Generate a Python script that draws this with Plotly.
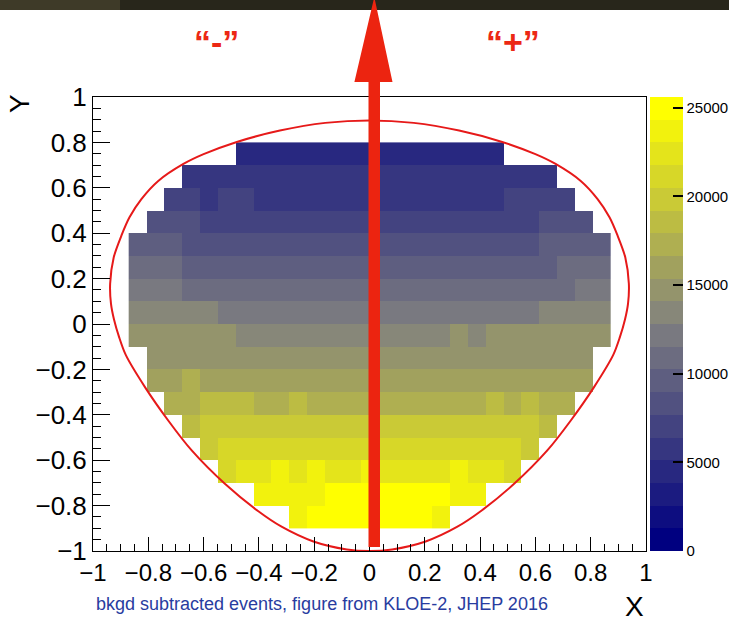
import numpy as np
import plotly.graph_objects as go

# ---------------- binning (31 X bins, 20 Y bins over [-1, 1]) ----------------
N_XBINS = 31
x_edges = np.linspace(-1.0, 1.0, N_XBINS + 1)
x_centers_all = (x_edges[:-1] + x_edges[1:]) / 2.0     # index 15 -> X = 0
x_centers = x_centers_all[2:29]                          # 27 populated columns

# Y bin centres, top row first
y_centers = [0.75, 0.65, 0.55, 0.45, 0.35, 0.25, 0.15, 0.05, -0.05,
             -0.15, -0.25, -0.35, -0.45, -0.55, -0.65, -0.75, -0.85]

# ---------------- counts per row (centred on X = 0, symmetric extent) --------
row_p075 = [4450, 4500, 4520, 4480, 4550, 4600, 4500, 4470, 4530, 4490, 4560, 4510, 4480, 4440, 4400]
row_p065 = [5850, 5800, 5780, 5820, 5760, 5800, 5790, 5830, 5810, 5770, 5800,
            5820, 5790, 5760, 5800, 5830, 5780, 5800, 5810, 5790, 5840]
row_p055 = [6900, 6950, 6100, 6800, 6850, 6000, 6050, 5950, 6000, 6080, 6020, 5980,
            6040, 6010, 5990, 6060, 6030, 6000, 6050, 6900, 6950, 6880, 6920]
row_p045 = [8200, 8250, 8150, 7100, 7150, 7050, 7120, 7080, 7100, 7130, 7070, 7110,
            7090, 7140, 7060, 7100, 7120, 7080, 7150, 7100, 7050, 7130, 8180, 8220, 8200]
row_p035 = [9500, 9550, 9450, 8400, 8350, 8420, 8380, 8450, 8400, 8360, 8410, 8390, 8430,
            8370, 8400, 8420, 8380, 8440, 8360, 8410, 8390, 8430, 8400, 9480, 9520, 9500, 9460]
row_p025 = [10800, 10850, 10750, 9700, 9650, 9720, 9680, 9750, 9700, 9660, 9710, 9690, 9730,
            9670, 9700, 9720, 9680, 9740, 9660, 9710, 9690, 9730, 9700, 9680, 10780, 10820, 10800]
row_p015 = [12100, 12150, 12050, 11000, 10950, 11020, 10980, 11050, 11000, 10960, 11010, 10990,
            11030, 10970, 11000, 11020, 10980, 11040, 10960, 11010, 10990, 11030, 11000, 10980,
            11020, 12120, 12080]
row_p005 = [13400, 13450, 13350, 13420, 13380, 12200, 12150, 12220, 12180, 12250, 12200, 12160,
            12210, 12190, 12230, 12170, 12200, 12220, 12180, 12240, 12160, 12210, 12190,
            13380, 13420, 13400, 13450]
row_m005 = [14600, 14650, 14550, 14620, 14580, 14640, 13500, 13450, 13520, 13480, 13550, 13500,
            13460, 13510, 13490, 13530, 13470, 13500, 14620, 13480, 14600, 14650, 14580, 14620,
            14560, 14640, 14600]
row_m015 = [15000, 15050, 14950, 15020, 14980, 15050, 15000, 14960, 15010, 14990, 15030, 14970,
            15000, 15020, 14980, 15040, 14960, 15010, 14990, 15030, 15000, 14980, 15020, 15050, 14990]
row_m025 = [16000, 16050, 17200, 15950, 16020, 15980, 16050, 16000, 15960, 16010, 15990, 16030,
            15970, 16000, 16020, 15980, 16040, 15960, 16010, 15990, 16030, 16000, 15980, 16020, 16050]
row_m035 = [17300, 17350, 18700, 18650, 18750, 17250, 17300, 18700, 17350, 17280, 17320,
            17300, 17340, 17260, 17310, 17290, 17330, 17300, 18720, 17280, 18680, 17320, 17300]
row_m045 = [18900, 20000, 20050, 19950, 20020, 19980, 20050, 20000, 19960, 20010, 19990,
            20030, 19970, 20000, 20020, 19980, 20040, 19960, 20010, 19990, 18950]
row_m055 = [19900, 21100, 21150, 21050, 21120, 21080, 21150, 21100, 21060, 21110,
            21090, 21130, 21070, 21100, 21120, 21080, 21140, 21060, 19950]
row_m065 = [21100, 22400, 22450, 23700, 22350, 23750, 22400, 22420, 23700,
            22380, 22450, 22400, 22350, 23720, 22420, 22380, 21150]
row_m075 = [23700, 23750, 23650, 23720, 25000, 25100, 25050, 25150, 25000, 25080, 25020, 23680, 23740]
row_m085 = [23700, 25000, 25100, 25200, 25150, 25250, 25100, 25050, 23750]

rows = [row_p075, row_p065, row_p055, row_p045, row_p035, row_p025, row_p015, row_p005,
        row_m005, row_m015, row_m025, row_m035, row_m045, row_m055, row_m065, row_m075, row_m085]

# ---------------- Dalitz-plot kinematic boundary ------
boundary_x = [0.00, -0.16, -0.324, -0.48, -0.60, -0.673, -0.764, -0.825, -0.868, -0.897, -0.925,
              -0.938, -0.935, -0.924, -0.905, -0.882, -0.812, -0.728, -0.643, -0.523, -0.402,
              -0.318, -0.203, -0.082, 0.00,
              0.082, 0.203, 0.318, 0.402, 0.523, 0.643, 0.728, 0.812, 0.882, 0.905, 0.924,
              0.935, 0.938, 0.925, 0.897, 0.868, 0.825, 0.764, 0.673, 0.60, 0.48, 0.324, 0.16, 0.00]
boundary_y = [0.897, 0.886, 0.852, 0.802, 0.748, 0.705, 0.630, 0.55, 0.47, 0.39, 0.294,
              0.177, 0.09, 0.02, -0.06, -0.135, -0.278, -0.425, -0.557, -0.704, -0.825,
              -0.893, -0.958, -0.993, -1.0,
              -0.993, -0.958, -0.893, -0.825, -0.704, -0.557, -0.425, -0.278, -0.135, -0.06, 0.02,
              0.09, 0.177, 0.294, 0.39, 0.47, 0.55, 0.630, 0.705, 0.748, 0.802, 0.852, 0.886, 0.897]

colorbar_ticks = [0, 5000, 10000, 15000, 20000, 25000]
Z_MAX = 25600
N_CONTOURS = 20

# ---------------- build the matrix ----------------
ncol = len(x_centers)
half = ncol // 2
z = []
for r in rows:
    k = (len(r) - 1) // 2
    line = [None] * ncol
    for j, v in enumerate(r):
        line[half - k + j] = v
    z.append(line)
z_plot = z[::-1]
y_plot = y_centers[::-1]

# ---------------- palette: navy -> grey -> yellow, 20 discrete bands ----------
def pal(t):
    a, m, b = (0, 0, 128), (128, 128, 128), (255, 255, 0)
    if t <= 0.5:
        s = t / 0.5
        c = [a[i] + (m[i] - a[i]) * s for i in range(3)]
    else:
        s = (t - 0.5) / 0.5
        c = [m[i] + (b[i] - m[i]) * s for i in range(3)]
    return "rgb(%d,%d,%d)" % tuple(int(round(v)) for v in c)

colorscale = []
for i in range(N_CONTOURS):
    col = pal(i / (N_CONTOURS - 1))
    colorscale.append([i / N_CONTOURS, col])
    colorscale.append([(i + 1) / N_CONTOURS, col])

FONT = "Liberation Sans, Arial, Helvetica, sans-serif"

# plot-area geometry in pixels (for decorations)
L, R, T, B = 93, 83, 97, 73
W, H = 729, 624
PW, PH = W - L - R, H - T - B
def px(p):
    return (p - L) / PW
def py(p):
    return (H - B - p) / PH

fig = go.Figure()

fig.add_trace(go.Heatmap(
    x=x_centers, y=y_plot, z=z_plot,
    zmin=0, zmax=Z_MAX, colorscale=colorscale,
    hoverinfo="skip",
    colorbar=dict(
        x=px(650), xanchor="left", xpad=0,
        y=0.5, yanchor="middle", ypad=0,
        len=1, lenmode="fraction", thickness=33,
        outlinewidth=0,
        tickvals=colorbar_ticks, tickformat="d",
        ticks="inside", ticklen=10, tickwidth=1.5,
        tickcolor="black",
        tickfont=dict(family=FONT, size=15, color="black"),
    ),
))

fig.add_trace(go.Scatter(
    x=boundary_x, y=boundary_y, mode="lines",
    line=dict(color="rgb(230,25,25)", width=2, shape="spline", smoothing=0.8),
    hoverinfo="skip", showlegend=False,
))

axis_common = dict(
    range=[-1, 1], dtick=0.2, tick0=-1,
    ticks="inside", tickwidth=1, tickcolor="black",
    showline=True, linecolor="black", linewidth=1, mirror=True,
    showgrid=False, zeroline=False,
    minor=dict(dtick=0.05, tick0=-1, ticks="inside", tickcolor="black", tickwidth=1, showgrid=False),
)
fig.update_xaxes(**axis_common, ticklen=14,
                 tickfont=dict(family=FONT, size=24, color="black"))
fig.update_xaxes(minor_ticklen=7)
fig.update_yaxes(**axis_common, ticklen=17,
                 tickfont=dict(family=FONT, size=26, color="black"))
fig.update_yaxes(minor_ticklen=8)

shapes = []
# dark slide band at the very top
shapes.append(dict(type="rect", xref="paper", yref="paper",
                   x0=px(-5), x1=px(W + 5), y0=py(10), y1=py(-5),
                   fillcolor="rgb(40,38,27)", line=dict(width=0), layer="above"))
shapes.append(dict(type="rect", xref="paper", yref="paper",
                   x0=px(-5), x1=px(120), y0=py(10), y1=py(-5),
                   fillcolor="rgb(62,58,40)", line=dict(width=0), layer="above"))
# red arrow along X = 0
arrow_path = ("M {a},{b} L {a},{c} L {d},{c} L {e},{f} L {g},{c} L {h},{c} L {h},{b} Z"
              .format(a=px(368.5), b=py(547), c=py(82), d=px(354.4), e=px(374.3),
                      f=py(-3), g=px(392.5), h=px(380)))
shapes.append(dict(type="path", xref="paper", yref="paper", path=arrow_path,
                   fillcolor="rgb(236,36,16)", line=dict(width=0), layer="above"))

def ann(text, x, y, size, color="black", bold=False, angle=0, xanchor="center"):
    return dict(text=text, x=px(x), y=py(y), xref="paper", yref="paper", showarrow=False,
                xanchor=xanchor, yanchor="middle", textangle=angle,
                font=dict(family=FONT, size=size, color=color,
                          weight="bold" if bold else "normal"))

annotations = [
    ann("“-”", 216, 42, 34, "rgb(236,40,20)", bold=True),
    ann("“+”", 513, 42, 34, "rgb(236,40,20)", bold=True),
    ann("X", 634, 606, 28),
    ann("Y", 19, 104, 28, angle=-90),
    ann("bkgd subtracted events, figure from KLOE-2, JHEP 2016", 94, 604, 18,
        "rgb(40,60,160)", xanchor="left"),
]

fig.update_layout(
    width=W, height=H,
    margin=dict(l=L, r=R, t=T, b=B, pad=0, autoexpand=False),
    paper_bgcolor="white", plot_bgcolor="white",
    showlegend=False,
    shapes=shapes, annotations=annotations,
)

fig.write_html("out.html")
